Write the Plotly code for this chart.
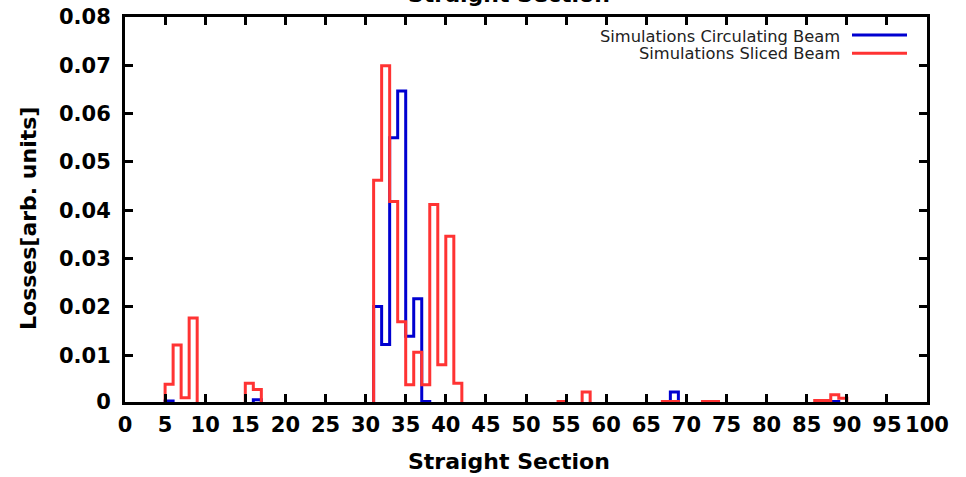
import numpy as np
import plotly.graph_objects as go

# ---- data ----
sections = list(range(0, 101))  # bin edges, straight sections 0..100

circ_bins = [5, 16, 31, 32, 33, 34, 35, 36, 37, 68, 88]
circ_vals = [0.0005, 0.0008, 0.0201, 0.0122, 0.0550, 0.0647, 0.0139, 0.0217, 0.0004, 0.0024, 0.0004]

sliced_bins = [5, 6, 7, 8, 15, 16, 31, 32, 33, 34, 35, 36, 37, 38, 39, 40, 41,
               54, 57, 67, 68, 72, 73, 86, 87, 88, 89]
sliced_vals = [0.0040, 0.0121, 0.0012, 0.0177, 0.0042, 0.0029, 0.0462, 0.0699, 0.0418,
               0.0169, 0.0039, 0.0106, 0.0039, 0.0412, 0.0080, 0.0346, 0.0042,
               0.0004, 0.0024, 0.0004, 0.0004, 0.0004, 0.0004, 0.0006, 0.0006, 0.0018, 0.0011]

series_names = ["Simulations Circulating Beam", "Simulations Sliced Beam"]
x_ticks = list(range(0, 101, 5))
y_ticks = [0.01, 0.02, 0.03, 0.04, 0.05, 0.06, 0.07, 0.08]
y_tick_text = ["0", "0.01", "0.02", "0.03", "0.04", "0.05", "0.06", "0.07", "0.08"]

BLUE = "#0000d0"
RED = "#ff3333"


def full_steps(bins, vals):
    arr = np.zeros(len(sections))
    for b, v in zip(bins, vals):
        arr[b] = v
    arr[-1] = arr[-2]
    return arr


circ = full_steps(circ_bins, circ_vals)
sliced = full_steps(sliced_bins, sliced_vals)

fig = go.Figure()
fig.add_trace(go.Scatter(x=sections, y=circ, mode="lines", line=dict(shape="hv", color=BLUE, width=3),
                         name=series_names[0], showlegend=False))
fig.add_trace(go.Scatter(x=sections, y=sliced, mode="lines", line=dict(shape="hv", color=RED, width=3),
                         name=series_names[1], showlegend=False))

W, H = 966, 477
L, R, T, B = 125, 39, 17, 75
pw, ph = W - L - R, H - T - B


def px(xp):
    return (xp - L) / pw


def py(yp):
    return (H - B - yp) / ph


# the frame line is drawn just outside the plot area; put y=0 on the frame's centre
# so the zero level of the step lines is hidden by the border (as in the original)
y_lo = 0.08 * 1.5 / ph

tickfont = dict(family="DejaVu Sans", size=21, color="black", weight="bold")
titlefont = dict(family="DejaVu Sans", size=22, color="black", weight="bold")

fig.update_layout(
    width=W, height=H,
    margin=dict(l=L, r=R, t=T, b=B, pad=0),
    plot_bgcolor="white", paper_bgcolor="white",
    showlegend=False,
    xaxis=dict(range=[0, 100], tickvals=x_ticks, ticks="inside", ticklen=8, tickwidth=2.5,
               tickcolor="black", showline=True, linewidth=3, linecolor="black", mirror="ticks",
               showgrid=False, zeroline=False, tickfont=tickfont, ticklabelstandoff=2,
               automargin=False),
    yaxis=dict(range=[y_lo, 0.08], tickvals=[y_lo] + y_ticks, ticktext=y_tick_text, ticks="inside",
               ticklen=8, tickwidth=2.5, tickcolor="black", showline=True, linewidth=3,
               linecolor="black", mirror="ticks", showgrid=False, zeroline=False,
               tickfont=tickfont, ticklabelstandoff=7, automargin=False),
)

annotations = [
    dict(text="Straight Section", x=px(509), y=py(461), xref="paper", yref="paper",
         xanchor="center", yanchor="middle", showarrow=False, font=titlefont),
    dict(text="Losses[arb. units]", x=px(29), y=py(219), xref="paper", yref="paper",
         xanchor="center", yanchor="middle", textangle=-90, showarrow=False, font=titlefont),
    dict(text="Straight Section", x=px(509), y=py(9), xref="paper", yref="paper",
         xanchor="center", yanchor="bottom", showarrow=False, font=titlefont),
    dict(text=series_names[0], x=px(842), y=py(36), xref="paper", yref="paper",
         xanchor="right", yanchor="middle", showarrow=False,
         font=dict(family="DejaVu Sans", size=16.3, color="#222")),
    dict(text=series_names[1], x=px(842), y=py(53.5), xref="paper", yref="paper",
         xanchor="right", yanchor="middle", showarrow=False,
         font=dict(family="DejaVu Sans", size=16.3, color="#222")),
]
fig.update_layout(annotations=annotations)

shapes = [
    dict(type="line", xref="paper", yref="paper", x0=px(852), x1=px(907), y0=py(35), y1=py(35),
         line=dict(color=BLUE, width=3)),
    dict(type="line", xref="paper", yref="paper", x0=px(852), x1=px(907), y0=py(53.3), y1=py(53.3),
         line=dict(color=RED, width=3)),
]
fig.update_layout(shapes=shapes)

fig.write_html("out.html")
